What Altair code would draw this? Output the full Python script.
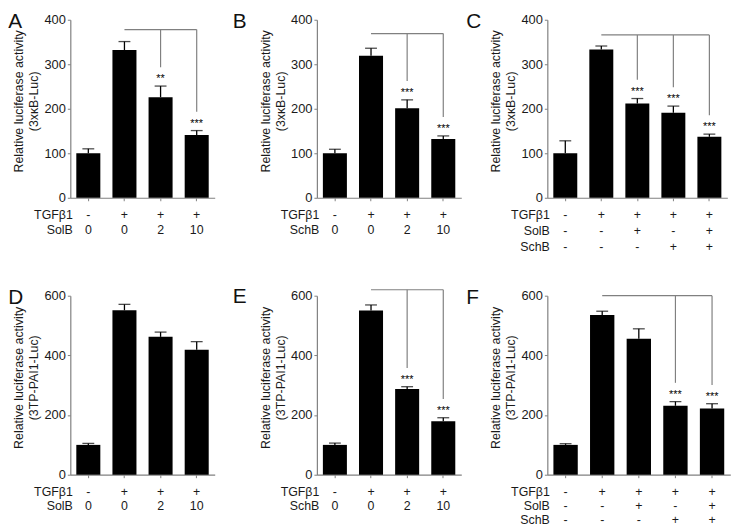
import altair as alt
import pandas as pd

FONT = "Liberation Sans, Arial, Helvetica, sans-serif"
TXT = "#1a1a1a"
GRAY = "#808080"

# ---------------- data ----------------
# Panel A  (3xkB-Luc, SolB)
A_rows = ["TGFβ1", "SolB"]
A_tgf = ["-", "+", "+", "+"]
A_drug = ["0", "0", "2", "10"]
A_mean = [100, 332, 226, 141]
A_sem = [10, 19, 25, 10]
A_sig = ["", "", "**", "***"]
A_bracket = 378

# Panel B  (3xkB-Luc, SchB)
B_rows = ["TGFβ1", "SchB"]
B_tgf = ["-", "+", "+", "+"]
B_drug = ["0", "0", "2", "10"]
B_mean = [100, 319, 201, 132]
B_sem = [9, 17, 19, 7]
B_sig = ["", "", "***", "***"]
B_bracket = 369

# Panel C  (3xkB-Luc, SolB + SchB)
C_rows = ["TGFβ1", "SolB", "SchB"]
C_tgf = ["-", "+", "+", "+", "+"]
C_solb = ["-", "-", "+", "-", "+"]
C_schb = ["-", "-", "-", "+", "+"]
C_mean = [100, 333, 212, 191, 137]
C_sem = [28, 8, 11, 15, 6]
C_sig = ["", "", "***", "***", "***"]
C_bracket = 366

# Panel D  (3TP-PAI1-Luc, SolB)
D_rows = ["TGFβ1", "SolB"]
D_tgf = ["-", "+", "+", "+"]
D_drug = ["0", "0", "2", "10"]
D_mean = [100, 551, 462, 419]
D_sem = [5, 20, 16, 27]
D_sig = ["", "", "", ""]
D_bracket = None

# Panel E  (3TP-PAI1-Luc, SchB)
E_rows = ["TGFβ1", "SchB"]
E_tgf = ["-", "+", "+", "+"]
E_drug = ["0", "0", "2", "10"]
E_mean = [100, 550, 287, 179]
E_sem = [6, 19, 8, 12]
E_sig = ["", "", "***", "***"]
E_bracket = 620

# Panel F  (3TP-PAI1-Luc, SolB + SchB)
F_rows = ["TGFβ1", "SolB", "SchB"]
F_tgf = ["-", "+", "+", "+", "+"]
F_solb = ["-", "-", "+", "-", "+"]
F_schb = ["-", "-", "-", "+", "+"]
F_mean = [100, 535, 456, 231, 222]
F_sem = [4, 13, 33, 14, 16]
F_sig = ["", "", "", "***", "***"]
F_bracket = 600

Y_TITLE = "Relative luciferase activity"


def letter_title(letter, letter_dx):
    return alt.TitleParams(text=letter, anchor="start", frame="group",
                           offset=-18, dx=letter_dx, fontSize=21,
                           fontWeight="normal", font=FONT, color="#111")


def panel(letter, row_names, rows, mean, sem, sig, reporter, ymax, ystep,
          bracket_top, width, height, letter_dx, line_h):
    n = len(mean)
    cats = ["|".join(r[i] for r in rows) for i in range(n)]
    df = pd.DataFrame({"cat": cats, "mean": mean, "sem": sem, "sig": sig})
    df["top"] = df["mean"] + df["sem"]

    xscale = alt.Scale(domain=cats, paddingInner=0.335, paddingOuter=0.166)
    yscale = alt.Scale(domain=[0, ymax], nice=False, zero=True)

    xaxis = alt.Axis(
        title=row_names, titleAngle=0, titleAlign="right", titleBaseline="top",
        titleX=2, titleY=11, titleLineHeight=line_h, titleFontSize=12.5,
        titleFontWeight="normal", titleFont=FONT, titleColor=TXT,
        labelExpr="split(datum.label, '|')", labelAngle=0, labelBaseline="top",
        labelPadding=8, labelLineHeight=line_h, labelFontSize=12.5,
        labelFont=FONT, labelColor=TXT, tickSize=3, tickColor=GRAY,
        domainColor=GRAY, domainWidth=1.2, grid=False,
    )
    yaxis = alt.Axis(
        title=[Y_TITLE, reporter], titleX=-58, titleY=height / 2 - 8,
        titleBaseline="top", titleLineHeight=15, titleFontSize=12.5,
        titleFontWeight="normal", titleFont=FONT, titleColor=TXT,
        values=list(range(0, ymax + 1, ystep)), labelFontSize=13,
        labelFont=FONT, labelColor=TXT, labelPadding=2, tickSize=3,
        tickColor=GRAY, domainColor=GRAY, domainWidth=1.2, grid=False,
    )
    X = alt.X("cat:N", scale=xscale, axis=xaxis)

    base = alt.Chart(df)
    bars = base.mark_bar(color="black").encode(
        x=X, y=alt.Y("mean:Q", scale=yscale, axis=yaxis))
    err = base.mark_rule(color="black", strokeWidth=1.3).encode(
        x=X, y=alt.Y("mean:Q", scale=yscale, axis=yaxis), y2="top:Q")
    cap = base.mark_tick(color="black", thickness=1.3, size=12,
                         orient="horizontal").encode(
        x=X, y=alt.Y("top:Q", scale=yscale, axis=yaxis))
    layers = [bars, err, cap]

    starred = df[df["sig"] != ""]
    if bracket_top is not None and len(starred):
        first = cats[1]
        last = starred["cat"].iloc[-1]
        bdf = pd.DataFrame({"cat": [first], "cat2": [last], "yb": [bracket_top]})
        hline = alt.Chart(bdf).mark_rule(color=GRAY, strokeWidth=1.2).encode(
            x=X, x2="cat2:N", y=alt.Y("yb:Q", scale=yscale, axis=yaxis))
        ddf = starred.copy()
        ddf["yb"] = bracket_top
        drops = alt.Chart(ddf).mark_rule(color=GRAY, strokeWidth=1.2,
                                         y2Offset=-19).encode(
            x=X, y=alt.Y("yb:Q", scale=yscale, axis=yaxis), y2="top:Q")
        stars = alt.Chart(starred).mark_text(
            font=FONT, fontSize=11, color="#000", baseline="middle", dy=-7).encode(
            x=X, y=alt.Y("top:Q", scale=yscale, axis=yaxis), text="sig:N")
        layers += [hline, drops, stars]

    return alt.layer(*layers).properties(
        width=width, height=height, title=letter_title(letter, letter_dx))


pA = panel("A", A_rows, [A_tgf, A_drug], A_mean, A_sem, A_sig, "(3xκB-Luc)",
           400, 100, A_bracket, 146, 180, -62.7, 15)
pB = panel("B", B_rows, [B_tgf, B_drug], B_mean, B_sem, B_sig, "(3xκB-Luc)",
           400, 100, B_bracket, 146, 180, -85, 15)
pC = panel("C", C_rows, [C_tgf, C_solb, C_schb], C_mean, C_sem, C_sig,
           "(3xκB-Luc)", 400, 100, C_bracket, 182, 180, -82, 16)
pD = panel("D", D_rows, [D_tgf, D_drug], D_mean, D_sem, D_sig,
           "(3TP-PAI1-Luc)", 600, 200, D_bracket, 146, 181, -62.7, 14)
pE = panel("E", E_rows, [E_tgf, E_drug], E_mean, E_sem, E_sig,
           "(3TP-PAI1-Luc)", 600, 200, E_bracket, 146, 181, -85, 14)
pF = panel("F", F_rows, [F_tgf, F_solb, F_schb], F_mean, F_sem, F_sig,
           "(3TP-PAI1-Luc)", 600, 200, F_bracket, 185, 181, -82, 14)

top = alt.hconcat(pA, alt.hconcat(pB, pC, spacing=5), spacing=18.3)
bottom = alt.hconcat(pD, alt.hconcat(pE, pF, spacing=5), spacing=18.3)

chart = alt.vconcat(top, bottom, spacing=33).properties(
    padding={"left": 0, "top": 0, "right": 0, "bottom": 0}
).configure_view(stroke=None)

chart.save("out.html", embed_options={"renderer": "svg", "actions": False})
